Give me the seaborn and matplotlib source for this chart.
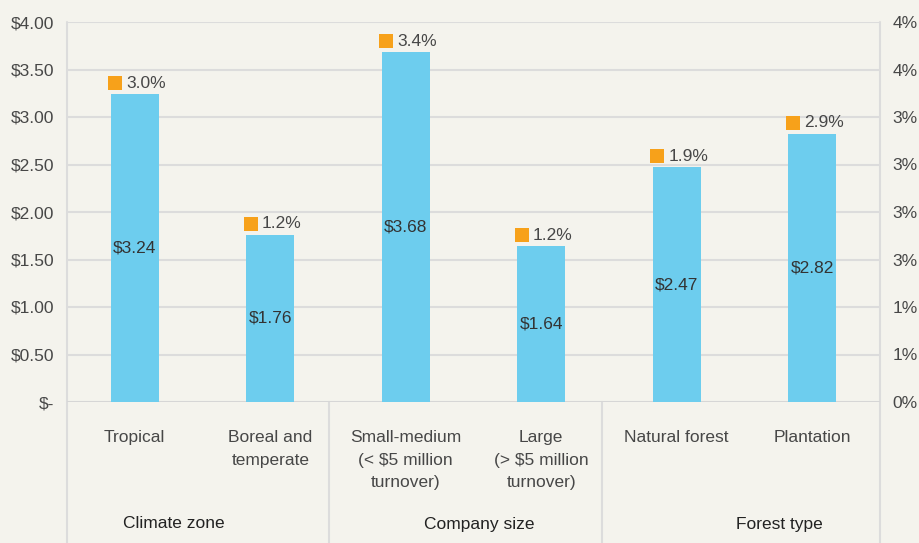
import seaborn as sns
import matplotlib.pyplot as plt
import matplotlib.transforms as mtransforms
import numpy as np

# data
categories = ['Tropical', 'Boreal and\ntemperate', 'Small-medium\n(< $5 million\nturnover)',
              'Large\n(> $5 million\nturnover)', 'Natural forest', 'Plantation']
prices = [3.24, 1.76, 3.68, 1.64, 2.47, 2.82]
pct = [3.0, 1.2, 3.4, 1.2, 1.9, 2.9]
groups = ['Climate zone', 'Company size', 'Forest type']
left_ticks = ['$-', '$0.50', '$1.00', '$1.50', '$2.00', '$2.50', '$3.00', '$3.50', '$4.00']
right_ticks = ['0%', '1%', '1%', '3%', '3%', '3%', '3%', '4%', '4%']

bg = '#f4f3ed'
bar_col = '#6dcdee'
orange = '#f7a11a'
txt = '#474747'
grid = '#dcdcdc'
fs = 12.5

sns.set_style('white')
plt.rcParams['font.family'] = ['Liberation Sans', 'DejaVu Sans']
plt.rcParams['text.color'] = txt

fig = plt.figure(figsize=(9.19, 5.43), dpi=100, facecolor=bg)
ax = fig.add_axes([67 / 919, 1 - 402 / 543, (880 - 67) / 919, 380 / 543])
ax.set_facecolor(bg)

sns.barplot(x=categories, y=prices, order=categories, color=bar_col, saturation=1,
            width=0.354, linewidth=0, ax=ax, zorder=3)

ax.set_xlim(-0.5, 5.5)
ax.set_ylim(0, 4)
yt = np.arange(0, 4.01, 0.5)
ax.set_yticks(yt)
ax.set_yticklabels(left_ticks, fontsize=fs, color=txt)
ax.yaxis.grid(True, color=grid, lw=1.5, zorder=0)
ax.set_axisbelow(True)
ax.tick_params(axis='both', length=0)
ax.tick_params(axis='y', pad=9)
ax.tick_params(axis='x', pad=20)
for lab in ax.get_xticklabels():
    lab.set_fontsize(fs)
    lab.set_color(txt)
    lab.set_linespacing(1.65)
    lab.set_verticalalignment('top')
ax.set_xlabel('')

for s in ['top', 'right', 'left', 'bottom']:
    ax.spines[s].set_visible(False)

# value labels in the middle of the bars
for i, v in enumerate(prices):
    ax.text(i, v / 2, f'${v:.2f}', ha='center', va='center', fontsize=fs, color='#333333', zorder=4)

# percentage markers just above bars
mk_tr = mtransforms.offset_copy(ax.transData, fig=fig, x=0, y=8, units='points')
ax.scatter(np.arange(len(pct)) - 0.145, prices, marker='s', s=105, color=orange,
           transform=mk_tr, zorder=5, linewidths=0, clip_on=False)
for i, (v, p) in enumerate(zip(prices, pct)):
    ax.annotate(f'{p:.1f}%', (i - 0.06, v), xytext=(0, 8), textcoords='offset points',
                ha='left', va='center', fontsize=fs, color=txt)

# right axis
ax2 = ax.twinx()
ax2.set_ylim(0, 4)
ax2.set_yticks(yt)
ax2.set_yticklabels(right_ticks, fontsize=fs, color=txt)
ax2.tick_params(axis='y', length=0, pad=9)
for s in ['top', 'right', 'left', 'bottom']:
    ax2.spines[s].set_visible(False)

# frame lines and group separators
ext = 141 / 380
ax.axhline(0, color='#d6d6d6', lw=2, zorder=2)
for x in [-0.5, 5.5]:
    ax.axvline(x, ymin=-ext, ymax=1, color=grid, lw=1.5, clip_on=False, zorder=1)
for x in [1.43, 3.45]:
    ax.axvline(x, ymin=-ext, ymax=0, color=grid, lw=1.5, clip_on=False, zorder=1)

gtr = mtransforms.blended_transform_factory(ax.transData, fig.transFigure)
for gx, g in zip([0.29, 2.54, 4.76], groups):
    ax.text(gx, 19 / 543, g, transform=gtr, ha='center', va='center', fontsize=fs, color='#222222')

fig.savefig('out.png', dpi=100, facecolor=bg)
